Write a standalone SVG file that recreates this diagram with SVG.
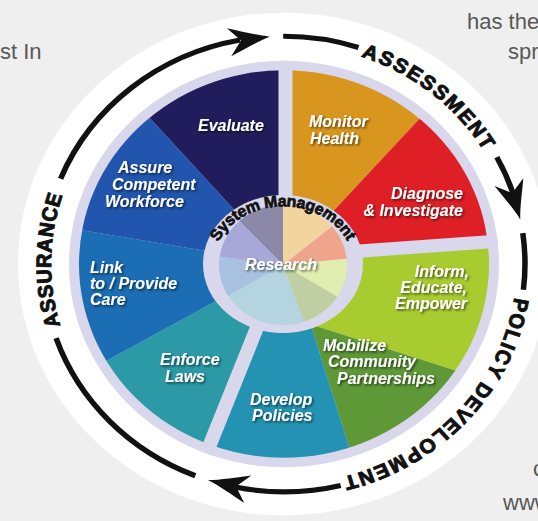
<svg xmlns="http://www.w3.org/2000/svg" width="538" height="521" viewBox="0 0 538 521">
<defs>
<style>
.bg{font-family:"Liberation Sans",Arial,sans-serif;font-size:22px;fill:#585858}
.lbl{font-family:"Liberation Sans",Arial,sans-serif;font-size:16px;font-weight:bold;font-style:italic;fill:#fff;filter:url(#sh)}
.ring{fill:none;stroke:#111;stroke-width:5.5}
.arct{font-family:"Liberation Sans",Arial,sans-serif;font-size:21px;font-weight:bold;fill:#111;stroke:#111;stroke-width:1}
.gap{stroke:#d9d7eb;stroke-width:14;fill:none}
.arrow{fill:#111}
</style>
<clipPath id="rim" clipPathUnits="userSpaceOnUse"><circle cx="0" cy="0" r="205"/></clipPath>
<clipPath id="disc" clipPathUnits="userSpaceOnUse"><circle cx="0" cy="0" r="215"/></clipPath>
<clipPath id="hubclip" clipPathUnits="userSpaceOnUse"><circle cx="0" cy="0" r="64"/></clipPath>
<filter id="sh" x="-20%" y="-40%" width="150%" height="200%">
<feDropShadow dx="1.5" dy="1.5" stdDeviation="1" flood-color="#000" flood-opacity="0.6"/>
</filter>
<path id="arrowhead" d="M0,0 C-12,-3 -28,-10 -41,-15 L-29,0 L-41,15 C-28,10 -12,3 0,0 Z"/>
<path id="pA" d="M37,-230 A233,233 0 0 1 217.7,-82.9"/>
<path id="pP" d="M232.9,8.3 A233,233 0 0 1 32.2,230.8"/>
<path id="pS" d="M-180.9,146.8 A233,233 0 0 1 -176,-152.7"/>
<path id="pM" d="M218.5,242 A70,58 0 0 1 348.8,244.5"/>
</defs>

<rect width="538" height="521" fill="#efefef"/>
<g id="page-text">
<text class="bg" x="0" y="59">st In</text>
<text class="bg" x="467" y="28.5">has the</text>
<text class="bg" x="508" y="58.5">spr</text>
<text class="bg" x="533" y="476">c</text>
<text class="bg" x="503" y="510">www</text>
</g>

<g id="wheel-base" transform="translate(284,264) scale(1,0.945)">
<circle r="266" fill="#ffffff"/>
<circle r="215" fill="#d9d7eb"/>
</g>

<g id="evaluate">
<polygon transform="translate(284,264) scale(1,0.945)" clip-path="url(#rim)" points="0,0 -196.8,-226.4 2.1,-300" fill="#211d5c"/>
<text class="lbl" x="198" y="131">Evaluate</text>
</g>
<g id="monitor-health">
<polygon transform="translate(284,264) scale(1,0.945)" clip-path="url(#rim)" points="0,0 2.1,-300 198.4,-225" fill="#d8961e"/>
<text class="lbl" x="309" y="127">Monitor</text>
<text class="lbl" x="310" y="144">Health</text>
</g>
<g id="diagnose">
<polygon transform="translate(284,264) scale(1,0.945)" clip-path="url(#rim)" points="0,0 198.4,-225 297.1,-41.8" fill="#df1f26"/>
<text class="lbl" x="463" y="199" text-anchor="end">Diagnose</text>
<text class="lbl" x="463" y="216" text-anchor="end">&amp; Investigate</text>
</g>
<g id="inform">
<polygon transform="translate(284,264) scale(1,0.945)" clip-path="url(#rim)" points="0,0 297.1,-41.8 232.8,133.5 -5.9,52.8" fill="#a8cb30"/>
<text class="lbl" x="469" y="277" text-anchor="end">Inform,</text>
<text class="lbl" x="467" y="293" text-anchor="end">Educate,</text>
<text class="lbl" x="467" y="309" text-anchor="end">Empower</text>
</g>
<g id="mobilize">
<polygon transform="translate(284,264) scale(1,0.945)" clip-path="url(#rim)" points="-5.9,52.8 232.8,133.5 77.4,235 17.6,33.7" fill="#5e9837"/>
<text class="lbl" x="323" y="351">Mobilize</text>
<text class="lbl" x="328" y="367">Community</text>
<text class="lbl" x="337" y="384">Partnerships</text>
</g>
<g id="develop-policies">
<polygon transform="translate(284,264) scale(1,0.945)" clip-path="url(#rim)" points="17.6,33.7 77.4,235 -107.5,280.1 0,0" fill="#2492b2"/>
<text class="lbl" x="250" y="405">Develop</text>
<text class="lbl" x="252" y="421">Policies</text>
</g>
<g id="enforce-laws">
<polygon transform="translate(284,264) scale(1,0.945)" clip-path="url(#rim)" points="0,0 -107.5,280.1 -259.8,150" fill="#2b99a6"/>
<text class="lbl" x="160" y="365">Enforce</text>
<text class="lbl" x="165" y="382">Laws</text>
</g>
<g id="link-care">
<polygon transform="translate(284,264) scale(1,0.945)" clip-path="url(#rim)" points="0,0 -259.8,150 -295.4,-52.1" fill="#1b6db4"/>
<text class="lbl" x="90" y="273">Link</text>
<text class="lbl" x="90" y="289">to / Provide</text>
<text class="lbl" x="90" y="305">Care</text>
</g>
<g id="assure-workforce">
<polygon transform="translate(284,264) scale(1,0.945)" clip-path="url(#rim)" points="0,0 -295.4,-52.1 -196.8,-226.4" fill="#2255ad"/>
<text class="lbl" x="118" y="173">Assure</text>
<text class="lbl" x="112" y="190">Competent</text>
<text class="lbl" x="105" y="207">Workforce</text>
</g>

<g id="gaps" transform="translate(284,264) scale(1,0.945)" clip-path="url(#disc)">
<line class="gap" x1="1.5" y1="-60" x2="1.5" y2="-230"/>
<line class="gap" x1="40" y1="-11" x2="240" y2="-26.2"/>
<line class="gap" x1="-10" y1="22.5" x2="-90" y2="233"/>
</g>

<g id="research-hub">
<ellipse cx="283" cy="264" rx="80" ry="69" fill="#d9d7eb"/>
<g transform="translate(283,265) scale(1,0.9375)" clip-path="url(#hubclip)">
<polygon points="0,0 -68.2,-73.1 0,-100" fill="#8c88a8"/>
<polygon points="0,0 0,-100 76.6,-64.3" fill="#f2d49f"/>
<polygon points="0,0 76.6,-64.3 99.5,-10.5" fill="#efa48c"/>
<polygon points="0,0 99.5,-10.5 84.8,53" fill="#e1eeb0"/>
<polygon points="0,0 84.8,53 32.6,94.6" fill="#c0cfa2"/>
<polygon points="0,0 32.6,94.6 -85.7,51.5" fill="#b4d5df"/>
<polygon points="0,0 -85.7,51.5 -99,-13.9" fill="#a8c1e0"/>
<polygon points="0,0 -99,-13.9 -68.2,-73.1" fill="#a7a8d8"/>
</g>
<text class="lbl" x="281" y="270" text-anchor="middle">Research</text>
<text font-family="'Liberation Sans',Arial,sans-serif" font-size="16" font-weight="bold" fill="#111" stroke="#111" stroke-width="0.7"><textPath href="#pM" textLength="154" lengthAdjust="spacing">System Management</textPath></text>
</g>

<g id="connectors" transform="translate(284,264) scale(1,0.945)">
<path class="ring" d="M-223.4,-90.3 A241,241 0 0 1 -43.9,-237"/>
<use href="#arrowhead" class="arrow" transform="translate(-14.3,-240.6) rotate(-8.2)"/>
<path class="ring" d="M-0.8,-241 A241,241 0 0 1 74.5,-229.2"/>
<text class="arct"><textPath href="#pA" startOffset="50%" text-anchor="middle" textLength="161" lengthAdjust="spacing">ASSESSMENT</textPath></text>
<path class="ring" d="M212.8,-113.1 A241,241 0 0 1 229.8,-72.5"/>
<use href="#arrowhead" class="arrow" transform="translate(236.3,-47.2) rotate(73.9)"/>
<path class="ring" d="M238.8,-32.7 A241,241 0 0 1 239.4,27.3"/>
<text class="arct"><textPath href="#pP" startOffset="50%" text-anchor="middle" textLength="271" lengthAdjust="spacing">POLICY DEVELOPMENT</textPath></text>
<path class="ring" d="M56.7,234.3 A241,241 0 0 1 -48.9,236"/>
<use href="#arrowhead" class="arrow" transform="translate(-76.1,228.7) rotate(193.6)"/>
<path class="ring" d="M-88.7,224.1 A241,241 0 0 1 -227.9,78.5"/>
<text class="arct"><textPath href="#pS" startOffset="50%" text-anchor="middle" textLength="140" lengthAdjust="spacing">ASSURANCE</textPath></text>
</g>
</svg>
